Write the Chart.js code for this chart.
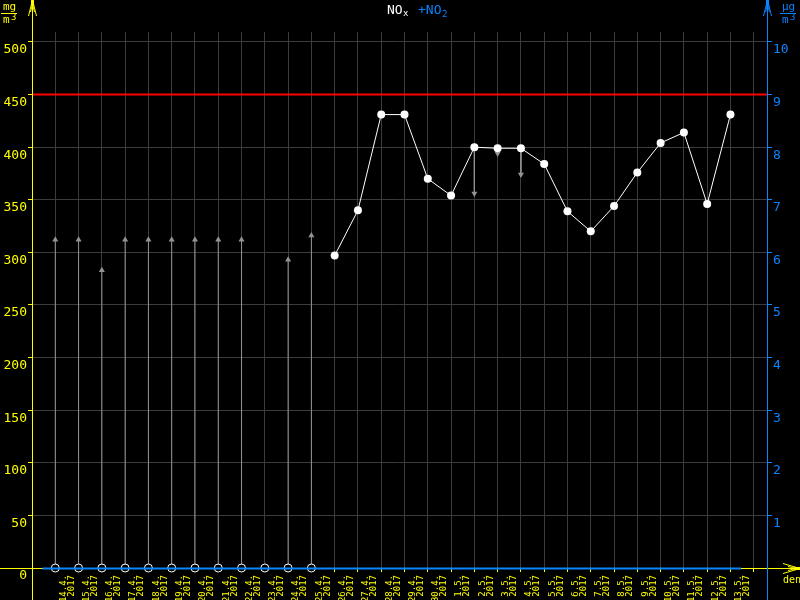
<!DOCTYPE html>
<html>
<head>
<meta charset="utf-8">
<script src="https://cdn.jsdelivr.net/npm/chart.js@4/dist/chart.umd.min.js"></script>
<style>
  html, body { margin: 0; padding: 0; background: #000; }
  #wrap { position: relative; width: 800px; height: 600px; }
</style>
</head>
<body>
<div id="wrap"><canvas id="noxChart"></canvas></div>
<script>
// --- data ---
const dates = [
  '14.4.2017', '15.4.2017', '16.4.2017', '17.4.2017', '18.4.2017', '19.4.2017',
  '20.4.2017', '21.4.2017', '22.4.2017', '23.4.2017', '24.4.2017', '25.4.2017',
  '26.4.2017', '27.4.2017', '28.4.2017', '29.4.2017', '30.4.2017', '1.5.2017',
  '2.5.2017', '3.5.2017', '4.5.2017', '5.5.2017', '6.5.2017', '7.5.2017',
  '8.5.2017', '9.5.2017', '10.5.2017', '11.5.2017', '12.5.2017', '13.5.2017'
];
// NOx daily values (mg/m3, left axis)
const nox = [
  null, null, null, null, null, null, null, null, null, null, null, null,
  297, 340, 431, 431, 370, 354, 400, 399, 399, 384, 339, 320, 344, 376, 404, 414, 346, 431
];
// grey arrows: where the arrow head points to
const arrowTo = [
  312, 312, 283, 312, 312, 312, 312, 312, 312, null, 293, 316,
  null, null, null, null, null, null, 356, 394, 374, null, null, null, null, null, null, null, null, null
];
const limitValue = 450;
const leftTicks = [0, 50, 100, 150, 200, 250, 300, 350, 400, 450, 500];
const rightTicks = [1, 2, 3, 4, 5, 6, 7, 8, 9, 10];

const YELLOW = '#ffff00';
const BLUE = '#0a84ff';
const GRID = '#3c3c3c';
const ARROW = '#939393';
const X_MIN = -1, X_MAX = 30.57;
const Y_MAX = 509.5;

// build library data
const noxPoints = [];
nox.forEach(function(v, i) { if (v !== null) noxPoints.push({ x: i, y: v }); });

const arrowPoints = [];
arrowTo.forEach(function(t, i) {
  if (t === null) return;
  const base = nox[i] !== null ? nox[i] : 0;
  arrowPoints.push({ x: i, y: base, head: false });
  arrowPoints.push({ x: i, y: t, head: true, down: t < base });
  arrowPoints.push({ x: i, y: null });
});

const missingPoints = [];
nox.forEach(function(v, i) { if (v === null) missingPoints.push({ x: i, y: 0 }); });

// decorations: axes with arrows, title, units
const decorPlugin = {
  id: 'decor',
  afterDraw: function(chart) {
    const ctx = chart.ctx;
    const a = chart.chartArea;
    const W = chart.width, H = chart.height;
    ctx.save();
    ctx.lineWidth = 1;

    // x axis (yellow) + arrow to the right
    ctx.strokeStyle = YELLOW;
    ctx.fillStyle = YELLOW;
    ctx.beginPath();
    ctx.moveTo(0, a.bottom + 0.5); ctx.lineTo(W, a.bottom + 0.5);
    ctx.stroke();
    // blue span under the days
    const xs = chart.scales.x;
    ctx.strokeStyle = BLUE;
    ctx.lineWidth = 2;
    ctx.beginPath();
    ctx.moveTo(xs.getPixelForValue(-0.55), a.bottom + 0.5);
    ctx.lineTo(xs.getPixelForValue(dates.length - 0.55), a.bottom + 0.5);
    ctx.stroke();
    ctx.lineWidth = 1;

    function upArrow(x, color) {
      ctx.strokeStyle = color; ctx.fillStyle = color;
      ctx.beginPath();
      ctx.moveTo(x + 0.5, 0); ctx.lineTo(x + 0.5, H);
      ctx.moveTo(x + 0.5, 0); ctx.lineTo(x - 3.5, 16);
      ctx.moveTo(x + 0.5, 0); ctx.lineTo(x + 4.5, 16);
      ctx.moveTo(x + 0.5, 4); ctx.lineTo(x - 1.5, 12);
      ctx.moveTo(x + 0.5, 4); ctx.lineTo(x + 2.5, 12);
      ctx.stroke();
      ctx.fillRect(x - 1, 0, 3, 6);
    }
    upArrow(Math.round(a.left), YELLOW);
    upArrow(Math.round(a.right), BLUE);

    // right arrow on x axis
    const y0 = a.bottom + 0.5;
    ctx.strokeStyle = YELLOW; ctx.fillStyle = YELLOW;
    ctx.beginPath();
    ctx.moveTo(W, y0); ctx.lineTo(W - 17, y0 - 5);
    ctx.moveTo(W, y0); ctx.lineTo(W - 17, y0 + 5);
    ctx.moveTo(W - 4, y0); ctx.lineTo(W - 12, y0 - 2);
    ctx.moveTo(W - 4, y0); ctx.lineTo(W - 12, y0 + 2);
    ctx.stroke();
    ctx.fillRect(W - 6, y0 - 1.5, 6, 3);

    // "den"
    ctx.font = '10px "DejaVu Sans Mono"';
    ctx.textAlign = 'left';
    ctx.textBaseline = 'alphabetic';
    ctx.fillText('den', 783, 583);

    // title NOx +NO2
    ctx.font = '13px "DejaVu Sans Mono"';
    ctx.fillStyle = '#ffffff';
    ctx.fillText('NO', 387, 14);
    ctx.font = '9px "DejaVu Sans Mono"';
    ctx.fillText('x', 403, 16);
    ctx.font = '13px "DejaVu Sans Mono"';
    ctx.fillStyle = BLUE;
    ctx.fillText('+NO', 418, 14);
    ctx.font = '9px "DejaVu Sans Mono"';
    ctx.fillText('2', 442, 17);

    // units
    function unit(x, text, color) {
      ctx.fillStyle = color; ctx.strokeStyle = color;
      ctx.font = '11px "DejaVu Sans Mono"';
      ctx.fillText(text, x + 2, 10);
      ctx.beginPath();
      ctx.moveTo(x, 13.5); ctx.lineTo(x + 16, 13.5);
      ctx.stroke();
      ctx.fillText('m', x + 2, 23);
      ctx.font = '9px "DejaVu Sans Mono"';
      ctx.fillText('3', x + 10, 20);
    }
    unit(1, 'mg', YELLOW);
    unit(780, '\u03bcg', BLUE);

    ctx.restore();
  }
};

const ctxNox = document.getElementById('noxChart').getContext('2d');
new Chart(ctxNox, {
  type: 'line',
  data: {
    datasets: [
      {
        label: 'missing',
        data: missingPoints,
        showLine: false,
        pointRadius: 4,
        pointBorderWidth: 1,
        pointBorderColor: '#ffffff',
        pointBackgroundColor: '#000000',
        clip: false
      },
      {
        label: 'NOx',
        data: noxPoints,
        borderColor: '#ffffff',
        borderWidth: 1,
        pointRadius: 4,
        pointBorderWidth: 0,
        pointBackgroundColor: '#ffffff',
        tension: 0
      },
      {
        label: 'arrows',
        data: arrowPoints,
        borderColor: ARROW,
        borderWidth: 1,
        spanGaps: false,
        pointStyle: 'triangle',
        pointRadius: function(c) { return c.raw && c.raw.head ? 3.5 : 0; },
        pointRotation: function(c) { return c.raw && c.raw.down ? 180 : 0; },
        pointBackgroundColor: ARROW,
        pointBorderColor: ARROW,
        pointBorderWidth: 0,
        tension: 0
      },
      {
        label: 'limit',
        data: [{ x: X_MIN, y: limitValue }, { x: X_MAX, y: limitValue }],
        borderColor: '#ff0000',
        borderWidth: 2,
        pointRadius: 0
      }
    ]
  },
  options: {
    responsive: true,
    maintainAspectRatio: false,
    animation: false,
    layout: { padding: { top: 32, left: 0, right: 0, bottom: 0 } },
    plugins: { legend: { display: false }, tooltip: { enabled: false } },
    scales: {
      x: {
        type: 'linear',
        min: X_MIN,
        max: X_MAX,
        afterBuildTicks: function(s) {
          const t = [];
          for (let i = -1; i <= dates.length; i++) t.push({ value: i });
          s.ticks = t;
        },
        afterFit: function(s) { s.height = 32; },
        border: { display: false },
        grid: { color: GRID, tickColor: YELLOW, tickLength: 4, lineWidth: 1 },
        ticks: {
          autoSkip: false,
          minRotation: 90,
          maxRotation: 90,
          padding: 3,
          labelOffset: 8,
          color: YELLOW,
          font: { family: 'DejaVu Sans Mono', size: 9, lineHeight: '8px' },
          callback: function(v) {
            const d = dates[v];
            if (!d) return '';
            const p = d.split('.');
            return [p[0] + '.' + p[1] + '.', p[2]];
          }
        }
      },
      y: {
        position: 'left',
        min: 0,
        max: Y_MAX,
        afterBuildTicks: function(s) { s.ticks = leftTicks.map(function(v) { return { value: v }; }); },
        afterFit: function(s) { s.width = 32; },
        border: { display: false },
        grid: { color: GRID, tickColor: YELLOW, tickLength: 4 },
        ticks: {
          color: YELLOW,
          padding: 1,
          labelOffset: 8,
          font: { family: 'DejaVu Sans Mono', size: 13 }
        }
      },
      y2: {
        position: 'right',
        min: 0,
        max: Y_MAX / 50,
        afterBuildTicks: function(s) { s.ticks = rightTicks.map(function(v) { return { value: v }; }); },
        afterFit: function(s) { s.width = 33; },
        border: { display: false },
        grid: { drawOnChartArea: false, tickColor: BLUE, tickLength: 5 },
        ticks: {
          color: BLUE,
          padding: 1,
          labelOffset: 8,
          font: { family: 'DejaVu Sans Mono', size: 13 }
        }
      }
    }
  },
  plugins: [decorPlugin]
});
</script>
</body>
</html>
